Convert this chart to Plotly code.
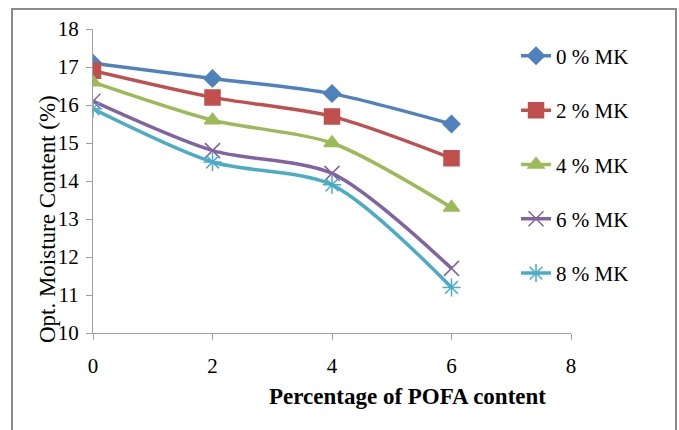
import plotly.graph_objects as go

x_vals = [0, 2, 4, 6]
mk0 = [17.1, 16.7, 16.3, 15.5]
mk2 = [16.9, 16.2, 15.7, 14.6]
mk4 = [16.6, 15.6, 15.0, 13.3]
mk6 = [16.1, 14.8, 14.2, 11.7]
mk8 = [15.9, 14.5, 13.9, 11.2]
series_names = ["0 % MK", "2 % MK", "4 % MK", "6 % MK", "8 % MK"]
series_vals = [mk0, mk2, mk4, mk6, mk8]
colors = ["#4F81BD", "#C0504D", "#9BBB59", "#8064A2", "#4BACC6"]
symbols = ["diamond", "square", "triangle-up", "x-thin-open", "asterisk-open"]
sizes = [13, 15, 14, 15, 15]

FONT = "Liberation Serif, Times New Roman, serif"

fig = go.Figure()
for i, (name, vals) in enumerate(zip(series_names, series_vals)):
    fig.add_trace(go.Scatter(
        x=x_vals, y=vals, name=name, mode="lines+markers",
        legendgroup=str(i),
        line=dict(color=colors[i], width=3.5, shape="spline", smoothing=0.8),
        marker=dict(symbol=symbols[i], size=sizes[i], color=colors[i],
                    line=dict(color=colors[i], width=1.5)),
    ))

fig.update_layout(
    width=679, height=430,
    margin=dict(l=93, r=108, t=29, b=97),
    paper_bgcolor="white", plot_bgcolor="white",
    font=dict(family=FONT, size=21, color="black"),
    showlegend=True,
    legend=dict(x=0.885, y=0.978, xanchor="left", yanchor="top",
                font=dict(family=FONT, size=21), tracegroupgap=24,
                bgcolor="rgba(0,0,0,0)"),
    xaxis=dict(range=[0, 8], tickvals=[0, 2, 4, 6, 8], showgrid=False,
               zeroline=False, showline=True, linecolor="#A0A0A0", linewidth=1,
               ticks="outside", tickcolor="#A0A0A0", ticklen=6, ticklabelstandoff=8,
               tickfont=dict(family=FONT, size=21)),
    yaxis=dict(range=[10, 18], dtick=1, showgrid=False, zeroline=False,
               showline=True, linecolor="#A0A0A0", linewidth=1,
               ticks="outside", tickcolor="#A0A0A0", ticklen=6, ticklabelstandoff=3,
               tickfont=dict(family=FONT, size=21)),
    annotations=[
        dict(text="Opt. Moisture Content (%)", textangle=-90, xref="paper", yref="paper",
             x=-0.096, y=0.375, xanchor="center", yanchor="middle", showarrow=False,
             font=dict(family=FONT, size=23, color="black")),
        dict(text="<b>Percentage of POFA content</b>", xref="paper", yref="paper",
             x=0.657, y=-0.21, xanchor="center", yanchor="middle", showarrow=False,
             font=dict(family=FONT, size=23, color="black")),
    ],
    shapes=[
        dict(type="rect", xref="paper", yref="paper",
             x0=(12 - 93) / 478, x1=(676 - 93) / 478,
             y0=(333 - 440) / 304, y1=(333 - 9) / 304,
             line=dict(color="#8C8C8C", width=2), fillcolor="rgba(0,0,0,0)", layer="below"),
    ],
)

fig.write_html("out.html")
